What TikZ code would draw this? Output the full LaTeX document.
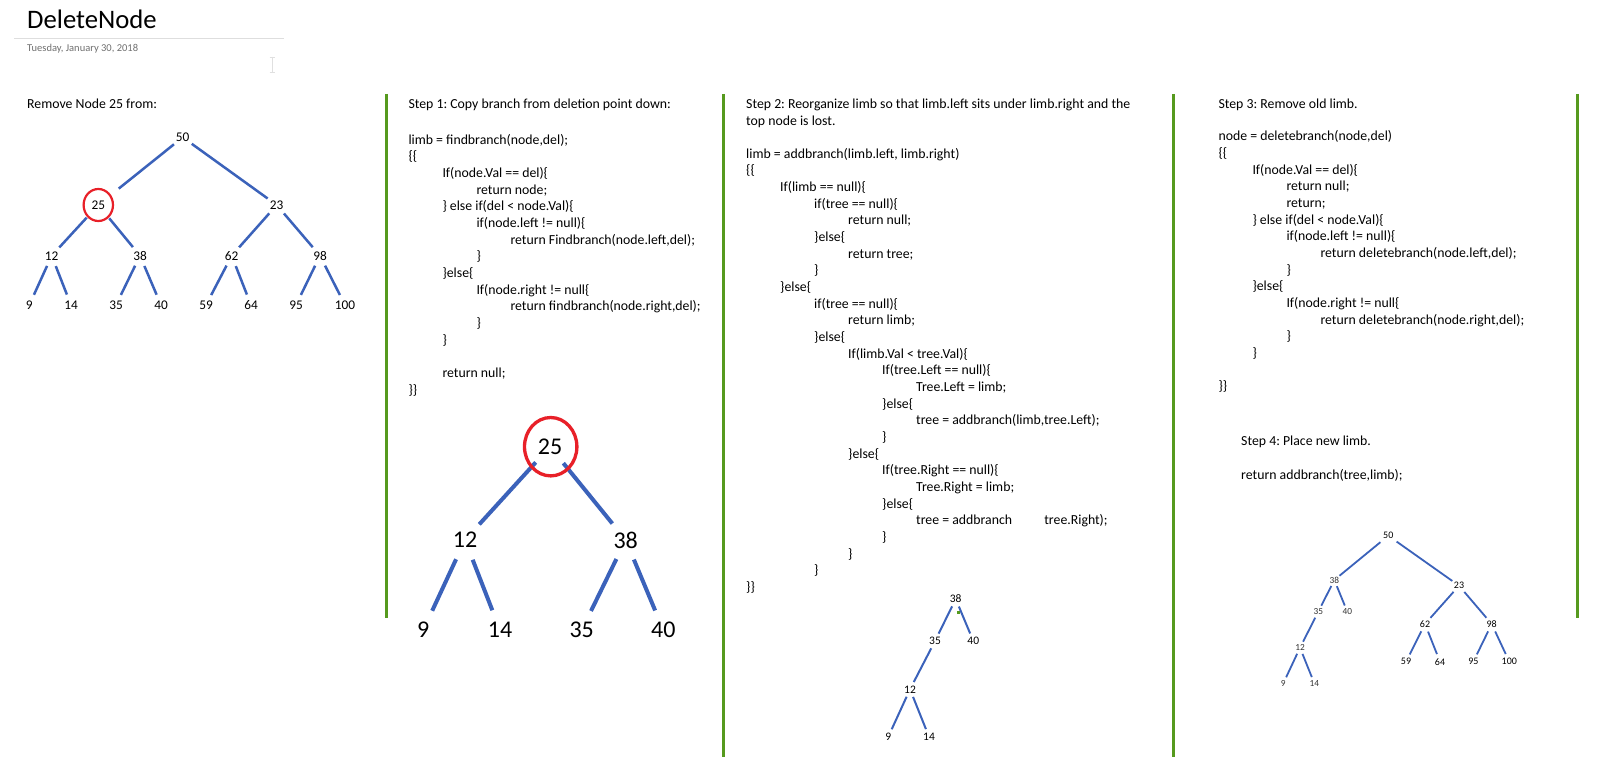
\documentclass[tikz,border=0pt]{standalone}
\usepackage{fontspec}
\setmainfont{Carlito}
\frenchspacing
\definecolor{treeblue}{RGB}{59,98,186}
\definecolor{sepgreen}{RGB}{86,154,30}
\definecolor{ringred}{RGB}{232,32,40}
\definecolor{dategray}{RGB}{112,112,112}
\definecolor{rulegray}{RGB}{222,222,222}
\newcommand\tA{\hspace*{34pt}}
\newcommand\tB{\hspace*{68pt}}
\newcommand\tC{\hspace*{102pt}}
\newcommand\tD{\hspace*{136pt}}
\newcommand\tE{\hspace*{170pt}}
\begin{document}
\begin{tikzpicture}[x=1pt,y=-1pt,
  code/.style={anchor=north west, inner sep=0pt, align=left, font=\fontsize{13.8}{16.67}\selectfont\frenchspacing},
  line/.style={anchor=base west, inner sep=0pt, font=\fontsize{13.8}{16.67}\selectfont\frenchspacing},
  sep/.style={draw=sepgreen, line width=3pt},
  ta/.style={circle, inner sep=0pt, minimum size=22pt, font=\fontsize{13.3}{16}\selectfont},
  tb/.style={circle, inner sep=0pt, minimum size=42pt, font=\fontsize{24}{28}\selectfont},
  tc/.style={circle, inner sep=0pt, minimum size=16pt, font=\fontsize{11.5}{14}\selectfont},
  td/.style={circle, inner sep=0pt, minimum size=16pt, font=\fontsize{10}{12}\selectfont},
  tds/.style={circle, inner sep=0pt, minimum size=13pt, font=\fontsize{9.3}{11}\selectfont, text=black!80},
  ea/.style={draw=treeblue, line width=2.5pt},
  eb/.style={draw=treeblue, line width=4pt},
  ec/.style={draw=treeblue, line width=2pt},
  ed/.style={draw=treeblue, line width=1.8pt},
  ring/.style={draw=ringred}
]
\useasboundingbox (0,0) rectangle (1598,757);
\fill[white] (0,0) rectangle (1598,757);

% header
\node[anchor=base west, inner sep=0pt, font=\fontsize{26.7}{30}\selectfont] (title) at (27,29) {DeleteNode};
\draw[rulegray, line width=1pt] (14,39) -- (284,39);
\node[anchor=base west, inner sep=0pt, font=\fontsize{10.5}{12}\selectfont\frenchspacing, text=dategray] (date) at (27,52) {Tuesday, January 30, 2018};
\draw[black!12, line width=0.8pt] (272,57) -- (272,72) (269.5,57) -- (274.5,57) (269.5,72) -- (274.5,72);

% separators
\draw[sep] (386,94) -- (386,618);
\draw[sep] (723.3,94) -- (723.3,757);
\draw[sep] (1173.3,94) -- (1173.3,757);
\draw[sep] (1577.5,94) -- (1577.5,618);

% column 1
\node[line] (h0) at (27,108.7) {Remove Node 25 from:};
\node[ta] (a50) at (182.7,137.3) {50};
\node[ta, minimum size=34pt] (a25) at (98.3,205) {25};
\node[ta] (a23) at (276.7,205) {23};
\node[ta] (a12) at (51.7,255.7) {12};
\node[ta] (a38) at (140,255.7) {38};
\node[ta] (a62) at (231.7,255.7) {62};
\node[ta] (a98) at (320,255.7) {98};
\node[ta] (a9) at (29.3,305) {9};
\node[ta] (a14) at (71,305) {14};
\node[ta] (a35) at (116,305) {35};
\node[ta] (a40) at (161,305) {40};
\node[ta] (a59) at (206,305) {59};
\node[ta] (a64) at (251,305) {64};
\node[ta] (a95) at (296,305) {95};
\node[ta] (a100) at (345,305) {100};
\draw[ea, shorten >=9pt] (a50) -- (a25);
\draw[ea] (a50) -- (a23);
\draw[ea] (a25) -- (a12);
\draw[ea] (a25) -- (a38);
\draw[ea] (a23) -- (a62);
\draw[ea] (a23) -- (a98);
\draw[ea] (a12) -- (a9);
\draw[ea] (a12) -- (a14);
\draw[ea] (a38) -- (a35);
\draw[ea] (a38) -- (a40);
\draw[ea] (a62) -- (a59);
\draw[ea] (a62) -- (a64);
\draw[ea] (a98) -- (a95);
\draw[ea] (a98) -- (a100);
\draw[ring, line width=2.2pt] (a25) ellipse [x radius=14.7, y radius=16];

% column 2
\node[line] (h1) at (408.3,108.3) {Step 1: Copy branch from deletion point down:};
\node[code] (c1) at (408.3,132.3) {\strut limb = findbranch(node,del);\\
\{\{\\
\tA If(node.Val == del)\{\\
\tB return node;\\
\tA \} else if(del < node.Val)\{\\
\tB if(node.left != null)\{\\
\tC return Findbranch(node.left,del);\\
\tB \}\\
\tA \}else\{\\
\tB If(node.right != null\{\\
\tC return findbranch(node.right,del);\\
\tB \}\\
\tA \}\\
\mbox{}\\
\tA return null;\\
\}\}};
\node[tb] (b25) at (550,446.7) {25};
\node[tb] (b12) at (465,540) {12};
\node[tb] (b38) at (625.7,540) {38};
\node[tb] (b9) at (423.3,630) {9};
\node[tb] (b14) at (500,630) {14};
\node[tb] (b35) at (581.7,630) {35};
\node[tb] (b40) at (663.3,630) {40};
\draw[eb] (b25) -- (b12);
\draw[eb] (b25) -- (b38);
\draw[eb] (b12) -- (b9);
\draw[eb] (b12) -- (b14);
\draw[eb] (b38) -- (b35);
\draw[eb] (b38) -- (b40);
\draw[ring, line width=3.3pt] (550.7,446.7) ellipse [x radius=26.2, y radius=29.2];

% column 3
\node[code] (h2) at (746,96.8) {\strut Step 2: Reorganize limb so that limb.left sits under limb.right and the\\top node is lost.};
\node[code] (c2) at (746,146.2) {\strut limb = addbranch(limb.left, limb.right)\\
\{\{\\
\tA If(limb == null)\{\\
\tB if(tree == null)\{\\
\tC return null;\\
\tB \}else\{\\
\tC return tree;\\
\tB \}\\
\tA \}else\{\\
\tB if(tree == null)\{\\
\tC return limb;\\
\tB \}else\{\\
\tC If(limb.Val < tree.Val)\{\\
\tD If(tree.Left == null)\{\\
\tE Tree.Left = limb;\\
\tD \}else\{\\
\tE tree = addbranch(limb,tree.Left);\\
\tD \}\\
\tC \}else\{\\
\tD If(tree.Right == null)\{\\
\tE Tree.Right = limb;\\
\tD \}else\{\\
\tE tree = addbranch\phantom{(limb,}tree.Right);\\
\tD \}\\
\tC \}\\
\tB \}\\
\}\}};
\node[tc] (c38) at (955.7,599) {38};
\node[tc] (c35) at (935,641) {35};
\node[tc] (c40) at (973.3,641) {40};
\node[tc] (c12) at (910,689.3) {12};
\node[tc] (c9) at (888.3,736.7) {9};
\node[tc] (c14) at (929,736.7) {14};
\draw[ec] (c38) -- (c35);
\draw[ec] (c38) -- (c40);
\draw[ec] (c35) -- (c12);
\draw[ec] (c12) -- (c9);
\draw[ec] (c12) -- (c14);
\fill[sepgreen] (956.5,611) rectangle (959.5,614);

% column 4
\node[line] (h3) at (1218.3,108.5) {Step 3: Remove old limb.};
\node[code] (c3) at (1218.3,128.9) {\strut node = deletebranch(node,del)\\
\{\{\\
\tA If(node.Val == del)\{\\
\tB return null;\\
\tB return;\\
\tA \} else if(del < node.Val)\{\\
\tB if(node.left != null)\{\\
\tC return deletebranch(node.left,del);\\
\tB \}\\
\tA \}else\{\\
\tB If(node.right != null\{\\
\tC return deletebranch(node.right,del);\\
\tB \}\\
\tA \}\\
\mbox{}\\
\}\}};
\node[line] (h4) at (1241,445) {Step 4: Place new limb.};
\node[line] (c4) at (1241,479) {return addbranch(tree,limb);};

\node[td, minimum size=20pt] (d50) at (1388.3,535.7) {50};
\node[tds] (d38) at (1334.3,580) {38};
\node[td] (d23) at (1459,585.7) {23};
\node[tds] (d35) at (1318.3,611.7) {35};
\node[tds] (d40) at (1347.3,611.7) {40};
\node[td] (d62) at (1425,624) {62};
\node[td] (d98) at (1491.7,624) {98};
\node[tds] (d12) at (1300,647.7) {12};
\node[td] (d59) at (1406,661.7) {59};
\node[td] (d64) at (1440,661.7) {64};
\node[td] (d95) at (1473.3,661.7) {95};
\node[td] (d100) at (1509.3,661.7) {100};
\node[tds] (d9) at (1283.3,683.3) {9};
\node[tds] (d14) at (1314.3,683.3) {14};
\draw[ed] (d50) -- (d38);
\draw[ed] (d50) -- (d23);
\draw[ed] (d38) -- (d35);
\draw[ed] (d38) -- (d40);
\draw[ed] (d35) -- (d12);
\draw[ed] (d12) -- (d9);
\draw[ed] (d12) -- (d14);
\draw[ed] (d23) -- (d62);
\draw[ed] (d23) -- (d98);
\draw[ed] (d62) -- (d59);
\draw[ed] (d62) -- (d64);
\draw[ed] (d98) -- (d95);
\draw[ed] (d98) -- (d100);
\end{tikzpicture}
\end{document}
